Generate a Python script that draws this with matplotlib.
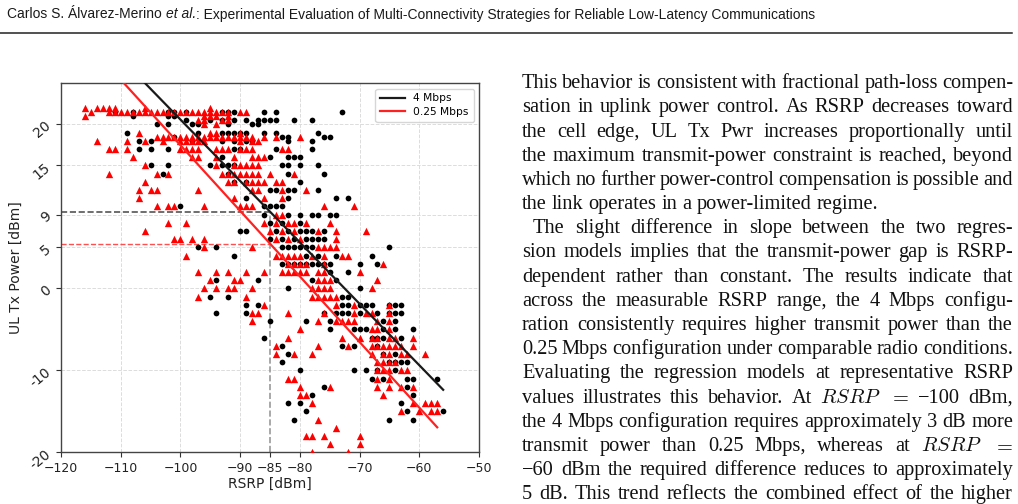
import matplotlib
matplotlib.use("Agg")
import matplotlib.pyplot as plt
from matplotlib.lines import Line2D
import numpy as np

plt.rcParams['mathtext.fontset'] = 'cm'

W, H, DPI = 1018, 504, 100

# ---------------- data ----------------
# UL Tx power level -> list of RSRP values (dBm)
rows_4mbps = {
    21.5: [-111, -108, -102, -101, -99, -93, -92, -91, -86, -84, -73],
    21: [-108, -102, -101],
    20.5: [-99, -95, -93, -91, -89, -87, -86, -85, -84, -81, -78],
    20: [-104, -102, -98, -97, -92, -88, -87],
    19: [-109, -97, -93, -92, -91, -90, -89, -86, -84, -77],
    18.5: [-101, -83, -82, -76, -75],
    18: [-107, -105, -98, -93, -91, -89, -88, -82, -78],
    17: [-107, -105, -102, -91, -90, -84, -78],
    16: [-93, -85, -82, -81, -80],
    15: [-105, -102, -95, -93, -92, -91, -83, -82, -80, -77],
    14: [-103, -92, -82, -76],
    13: [-91, -89, -80],
    12: [-85, -84, -82, -81, -77],
    11: [-89, -82, -74, -72],
    10: [-100, -86, -85, -84, -83],
    9: [-86, -82, -80, -78, -77, -75, -74],
    8: [-85, -83, -80],
    7: [-90, -89, -84, -82, -80, -79, -78, -76],
    6: [-85, -83, -81, -79, -78, -77, -76],
    5: [-97, -94, -83, -82, -81, -80, -79, -78, -65],
    4: [-91, -79, -77, -74, -68],
    3: [-83, -82, -81, -80, -79, -78, -77, -76, -75, -70, -67],
    2: [-75, -72],
    1: [-94, -87, -78, -74],
    0: [-82, -70],
    -1: [-95, -92, -73, -72],
    -2: [-89, -87, -73, -72, -70, -69, -68, -65, -64, -63],
    -3: [-94, -89, -76, -74, -73, -72, -70, -67, -65, -64, -63],
    -4: [-85, -79, -75, -66, -64],
    -5: [-75, -71, -70, -69, -66, -64, -61],
    -6: [-86, -68, -67, -66, -63],
    -7: [-83, -73, -71, -67],
    -8: [-82, -66, -64],
    -9: [-83, -65, -64, -63, -62],
    -10: [-80, -71, -69, -67, -64],
    -11: [-68, -66, -62, -61, -57],
    -12: [-76, -62],
    -13: [-78, -61],
    -14: [-82, -80, -63],
    -15: [-79, -62, -56],
    -16: [-81, -65, -61],
}

rows_025mbps = {
    22: [-116, -114, -113, -112, -111, -106, -95],
    21.5: [-115, -112, -111, -110, -109, -108, -107, -106, -105, -104, -103,
           -102, -101, -100, -99, -98, -97, -96, -95, -94, -93, -92, -90, -89],
    21: [-116, -96, -95, -94, -92],
    20.5: [-97, -96, -93, -92],
    20: [-96, -94],
    19: [-107, -95, -94, -90],
    18.5: [-104, -103, -102, -101, -100, -99, -98, -97, -96, -95, -94, -93,
           -92, -91, -90, -89, -88, -86, -84, -80],
    18: [-114, -109, -106, -103, -100, -99, -98, -97, -96, -90, -88, -87],
    17: [-112, -111, -109, -100, -99, -98, -97, -94, -93, -92, -90, -89, -88,
         -83, -82],
    16: [-108, -98, -97, -94, -91, -88, -87, -86],
    15: [-106, -94, -91, -90, -89, -88, -87],
    14: [-112, -104, -102, -93, -92, -91, -90, -89, -88, -87, -85, -81],
    13: [-106, -92, -91, -89, -88, -87, -86, -84, -83],
    12: [-107, -105, -104, -97, -88, -87, -83, -79],
    11: [-107, -91, -86, -83],
    10: [-104, -102, -101, -96, -90, -89, -88, -76, -71],
    9: [-84, -83],
    8: [-102, -99, -86, -84, -82, -81, -79, -75],
    7: [-106, -85, -83, -81, -77, -74, -69],
    6: [-101, -100, -98, -96, -84, -82, -80, -74],
    5: [-96, -88, -77, -76, -75, -74],
    4: [-99, -84, -83, -82, -81, -80, -78, -76, -73, -72],
    3: [-82, -81, -80, -79, -76, -66],
    2: [-97, -94, -92, -89, -86, -83, -82, -81, -80, -79, -77, -76, -70],
    1: [-95, -91, -90, -77, -76, -75, -67],
    0: [-96, -94, -92, -91, -88, -78, -77, -76, -75, -68],
    -1: [-97, -89, -78, -77, -76, -75, -74],
    -2: [-86, -74, -71, -65],
    -3: [-88, -87, -82, -76, -71, -69, -68, -65],
    -4: [-88, -77, -74, -73, -72, -71, -67, -65],
    -5: [-80, -68, -67, -65],
    -6: [-82, -73, -70, -68, -67, -65, -64, -61],
    -7: [-84, -77, -72, -68, -67, -66, -65, -64, -63, -61],
    -8: [-84, -81, -78, -68, -66, -65, -63, -62, -59],
    -9: [-67, -66, -65, -64],
    -10: [-67, -66, -65, -63, -62],
    -11: [-82, -81, -67, -65],
    -12: [-80, -75, -67, -65, -63, -61],
    -13: [-80, -79, -66],
    -14: [-78, -61, -59, -58, -57],
    -15: [-63, -60, -58, -57],
    -16: [-77],
    -17: [-74],
    -18: [-79, -78, -76, -70],
    -19: [-75, -70],
    -20: [-78, -72],
}

# regression lines (slope, intercept)
fit_4mbps = (-0.749, -54.32)
fit_025mbps = (-0.800, -62.55)
ref_rsrp = -85

series_labels = ['4 Mbps', '0.25 Mbps']
x_ticks = [-120, -110, -100, -90, -85, -80, -70, -60, -50]
y_ticks = [-20, -10, 0, 5, 9, 15, 20]
y_ticklabels = ['-20', '-10', '0', '5', '9', '15', '20']

header_a = "Carlos S. \u00c1lvarez-Merino"
header_b = "et al."
header_c = (": Experimental Evaluation of Multi-Connectivity Strategies for "
            "Reliable Low-Latency Communications")

body_lines = [
    ("This behavior is consistent with fractional path-loss compen-", False, True),
    ("sation in uplink power control. As RSRP decreases toward", False, True),
    ("the cell edge, UL Tx Pwr increases proportionally until", False, True),
    ("the maximum transmit-power constraint is reached, beyond", False, True),
    ("which no further power-control compensation is possible and", False, True),
    ("the link operates in a power-limited regime.", False, False),
    ("The slight difference in slope between the two regres-", True, True),
    ("sion models implies that the transmit-power gap is RSRP-", False, True),
    ("dependent rather than constant. The results indicate that", False, True),
    ("across the measurable RSRP range, the 4 Mbps configu-", False, True),
    ("ration consistently requires higher transmit power than the", False, True),
    ("0.25 Mbps configuration under comparable radio conditions.", False, True),
    ("Evaluating the regression models at representative RSRP", False, True),
    ("values illustrates this behavior. At $RSRP$ $=$ \u2212100 dBm,", False, True),
    ("the 4 Mbps configuration requires approximately 3 dB more", False, True),
    ("transmit power than 0.25 Mbps, whereas at $RSRP$ $=$", False, True),
    ("\u221260 dBm the required difference reduces to approximately", False, True),
    ("5 dB. This trend reflects the combined effect of the higher", False, True),
]


def flatten(rows):
    xs, ys = [], []
    for p, vals in rows.items():
        for v in vals:
            xs.append(v)
            ys.append(p)
    return np.array(xs, float), np.array(ys, float)


x4, y4 = flatten(rows_4mbps)
x025, y025 = flatten(rows_025mbps)

fig = plt.figure(figsize=(W / DPI, H / DPI), dpi=DPI)
fig.patch.set_facecolor('white')
renderer = fig.canvas.get_renderer()


def measure(s, **kw):
    t = fig.text(0, 0, s, **kw)
    w = t.get_window_extent(renderer).width
    t.remove()
    return w


# ---------------- header ----------------
hk = dict(family='Liberation Sans', color='#1a1a1a')
fs0 = 9.0
sp0 = measure("a a", size=fs0, **hk) - measure("aa", size=fs0, **hk)
tot0 = (measure(header_a, size=fs0, **hk) + sp0 +
        measure(header_b, size=fs0, style='italic', **hk) +
        measure(header_c, size=fs0, **hk))
hfs = fs0 * (805.0 / tot0)
x = 7.0
yb = 1 - 18.5 / H
fig.text(x / W, yb, header_a, size=hfs, va='baseline', **hk)
x += measure(header_a, size=hfs, **hk) + sp0 * hfs / fs0
fig.text(x / W, yb, header_b, size=hfs, style='italic', va='baseline', **hk)
x += measure(header_b, size=hfs, style='italic', **hk)
fig.text(x / W, yb, header_c, size=hfs, va='baseline', **hk)
fig.add_artist(Line2D([0, 1012 / W], [1 - 33 / H] * 2, transform=fig.transFigure,
                      color='#222222', lw=1.1))

# ---------------- body text (justified) ----------------
bk = dict(family='Liberation Serif', color='#111111')
X0, X1 = 522.0, 1013.0
INDENT = 11.0


def line_parts(fs):
    sp = measure("a a", size=fs, **bk) - measure("aa", size=fs, **bk)
    parts = []
    for text, indent, just in body_lines:
        toks = text.split(' ')
        ws = [measure(t, size=fs, **bk) for t in toks]
        parts.append((toks, ws, indent, just))
    return sp, parts


bfs0 = 13.0
sp, parts = line_parts(bfs0)
ratios = []
for toks, ws, indent, just in parts:
    if just:
        avail = X1 - X0 - (INDENT if indent else 0)
        ratios.append(avail / (sum(ws) + 0.8 * sp * (len(toks) - 1)))
bfs = bfs0 * min(ratios)
sp, parts = line_parts(bfs)

BASE0, LEAD = 88.3, 24.17
for i, (toks, ws, indent, just) in enumerate(parts):
    yb = 1 - (BASE0 + i * LEAD) / H
    x0 = X0 + (INDENT if indent else 0)
    if just and len(toks) > 1:
        gap = (X1 - x0 - sum(ws)) / (len(toks) - 1)
    else:
        gap = sp
    x = x0
    for t, w in zip(toks, ws):
        fig.text(x / W, yb, t, size=bfs, va='baseline', ha='left', **bk)
        x += w + gap

# ---------------- chart ----------------
ax = fig.add_axes([61 / W, 1 - 452.3 / H, 418 / W, 369 / H])
ax.set_xlim(-120, -50)
ax.set_ylim(-20, 25)

ax.scatter(x4, y4, s=17, c='black', marker='o', linewidths=0, zorder=3)
ax.scatter(x025, y025, s=28, c='red', marker='^', linewidths=0, zorder=3)

for (xs, fit, col, lab) in [(x4, fit_4mbps, '#1a1a1a', series_labels[0]),
                            (x025, fit_025mbps, '#ff2020', series_labels[1])]:
    xl = np.array([xs.min(), xs.max()])
    ax.plot(xl, fit[0] * xl + fit[1], color=col, lw=1.6, label=lab, zorder=4)

y_ref4 = fit_4mbps[0] * ref_rsrp + fit_4mbps[1]
y_ref025 = fit_025mbps[0] * ref_rsrp + fit_025mbps[1]
ax.plot([-120, ref_rsrp], [y_ref4, y_ref4], ls='--', color='#555555', lw=1.2, zorder=2)
ax.plot([-120, ref_rsrp], [y_ref025, y_ref025], ls='--', color='#ff5050', lw=1.0, zorder=2)
ax.plot([ref_rsrp, ref_rsrp], [-20, y_ref4], ls='--', color='#999999', lw=1.2, zorder=2)

ax.set_xticks(x_ticks)
ax.set_yticks(y_ticks)
ax.set_yticklabels(y_ticklabels, rotation=40)
ax.grid(True, ls='--', color='#dcdcdc', lw=0.7, zorder=0)
ax.set_axisbelow(True)
for tk, gl in zip(ax.get_xticks(), ax.xaxis.get_gridlines()):
    if tk == ref_rsrp:
        gl.set_visible(False)

ax.tick_params(axis='x', labelsize=9)
ax.tick_params(axis='y', labelsize=10, pad=2)
ax.tick_params(length=3.5, width=0.8, color='#333333', labelcolor='#222222')
for s in ax.spines.values():
    s.set_color('#444444')
    s.set_linewidth(1.0)

ax.set_xlabel('RSRP [dBm]', fontsize=10, labelpad=1, color='#222222')
ax.set_ylabel('UL Tx Power [dBm]', fontsize=10, labelpad=3, color='#222222')

ax.legend(loc='upper right', fontsize=7.7, frameon=True, edgecolor='#cccccc',
          fancybox=True, handlelength=2.3, borderpad=0.45, labelspacing=0.35,
          borderaxespad=0.5)

fig.savefig('out.png', dpi=DPI, facecolor='white')
